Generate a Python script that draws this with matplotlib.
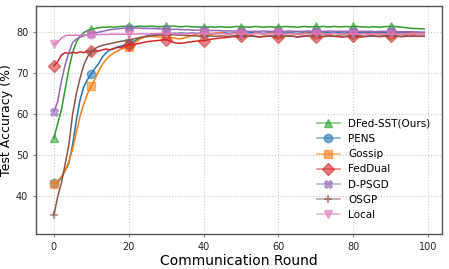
import matplotlib
matplotlib.use('Agg')
import matplotlib.pyplot as plt
import numpy as np

rounds = list(range(100))

dfed_sst = [54.2, 57.6, 61.0, 66.0, 71.0, 75.0, 77.6, 79.0, 79.9, 80.4,
            80.7, 80.9, 81.1, 81.2, 81.2, 81.3, 81.2, 81.3, 81.4, 81.4,
            81.4, 81.3, 81.4, 81.5, 81.4, 81.4, 81.5, 81.4, 81.3, 81.4,
            81.5, 81.4, 81.5, 81.4, 81.3, 81.4, 81.4, 81.3, 81.3, 81.2,
            81.3, 81.2, 81.3, 81.2, 81.3, 81.3, 81.2, 81.2, 81.3, 81.4,
            81.3, 81.3, 81.2, 81.3, 81.4, 81.3, 81.2, 81.3, 81.3, 81.2,
            81.3, 81.3, 81.4, 81.3, 81.3, 81.2, 81.3, 81.4, 81.3, 81.3,
            81.4, 81.3, 81.4, 81.3, 81.3, 81.4, 81.3, 81.3, 81.4, 81.3,
            81.4, 81.4, 81.3, 81.3, 81.2, 81.3, 81.3, 81.2, 81.3, 81.4,
            81.4, 81.4, 81.3, 81.2, 81.1, 81.0, 80.9, 80.9, 80.8, 80.8]

pens = [43.2, 43.3, 44.5, 46.2, 48.0, 52.5, 58.5, 63.5, 66.7, 68.5,
        69.8, 71.2, 72.4, 74.0, 75.0, 75.7, 76.0, 76.4, 76.6, 76.9,
        77.1, 77.6, 78.1, 78.5, 78.8, 79.1, 79.3, 79.4, 79.5, 79.5,
        79.6, 79.6, 79.7, 79.7, 79.8, 79.7, 79.7, 79.8, 79.7, 79.7,
        79.8, 79.7, 79.6, 79.7, 79.8, 79.9, 79.8, 79.7, 79.8, 79.9,
        79.8, 79.7, 79.8, 79.9, 79.8, 79.8, 79.7, 79.8, 79.9, 79.8,
        79.7, 79.8, 79.8, 79.9, 79.8, 79.7, 79.8, 79.9, 79.9, 79.8,
        79.8, 79.7, 79.8, 79.9, 79.8, 79.8, 79.9, 79.8, 79.8, 79.9,
        79.9, 79.8, 79.9, 80.0, 79.9, 79.8, 79.9, 79.9, 80.0, 79.9,
        79.9, 80.0, 79.9, 79.9, 80.0, 79.9, 79.9, 80.0, 79.9, 79.9]

gossip = [43.0, 43.7, 44.8, 46.2, 48.5, 51.5, 55.5, 59.5, 62.5, 65.0,
          66.9, 68.6, 70.6, 72.2, 73.4, 74.3, 74.9, 75.4, 75.9, 76.2,
          76.4, 77.0, 77.7, 78.3, 78.7, 78.9, 79.0, 78.9, 78.8, 78.8,
          79.0, 78.7, 78.6, 78.4, 78.4, 78.6, 78.9, 79.2, 79.5, 79.7,
          79.8, 79.6, 79.5, 79.7, 79.9, 79.8, 79.6, 79.5, 79.7, 79.8,
          79.7, 79.5, 79.4, 79.6, 79.8, 79.7, 79.5, 79.6, 79.8, 79.7,
          79.5, 79.4, 79.6, 79.7, 79.6, 79.5, 79.6, 79.8, 79.7, 79.5,
          79.6, 79.7, 79.6, 79.4, 79.5, 79.7, 79.6, 79.5, 79.6, 79.7,
          79.6, 79.5, 79.6, 79.7, 79.6, 79.5, 79.6, 79.7, 79.6, 79.5,
          79.6, 79.7, 79.6, 79.5, 79.6, 79.7, 79.8, 79.8, 79.9, 79.8]

feddual = [71.8, 72.8, 74.4, 75.0, 74.8, 75.1, 74.9, 75.2, 75.0, 75.4,
           75.3, 75.5, 75.4, 75.7, 75.9, 75.7, 76.0, 76.3, 76.2, 76.6,
           76.9, 77.0, 77.1, 77.3, 77.5, 77.7, 77.8, 77.9, 78.0, 78.1,
           78.2, 77.8, 77.5, 77.3, 77.3, 77.4, 77.6, 77.7, 77.8, 77.9,
           77.9, 78.1, 78.3, 78.4, 78.5, 78.6, 78.7, 78.8, 78.9, 78.9,
           79.0, 78.9, 79.0, 79.1, 78.9, 78.8, 78.9, 79.0, 79.1, 78.9,
           78.8, 78.9, 79.0, 79.1, 79.0, 78.8, 78.9, 79.0, 79.1, 79.0,
           78.9, 78.8, 78.9, 79.0, 79.1, 79.0, 78.9, 78.8, 78.9, 79.0,
           79.0, 78.9, 78.8, 78.9, 79.0, 79.1, 79.0, 78.9, 79.0, 79.1,
           79.0, 79.1, 79.0, 78.9, 79.0, 79.0, 79.1, 79.0, 79.0, 79.0]

dpsgd = [60.6, 63.0, 68.0, 72.0, 75.0, 77.5, 78.3, 78.8, 79.1, 79.4,
         79.6, 79.8, 80.0, 80.2, 80.4, 80.6, 80.7, 80.8, 80.9, 81.0,
         81.0, 81.0, 81.0, 81.0, 80.9, 80.9, 80.9, 80.9, 80.8, 80.8,
         80.8, 80.7, 80.7, 80.7, 80.6, 80.6, 80.6, 80.5, 80.5, 80.5,
         80.5, 80.4, 80.4, 80.4, 80.4, 80.3, 80.3, 80.3, 80.3, 80.3,
         80.3, 80.3, 80.2, 80.2, 80.2, 80.2, 80.3, 80.2, 80.2, 80.2,
         80.2, 80.2, 80.2, 80.3, 80.2, 80.2, 80.2, 80.2, 80.3, 80.2,
         80.2, 80.2, 80.2, 80.2, 80.3, 80.2, 80.2, 80.2, 80.2, 80.2,
         80.3, 80.2, 80.2, 80.2, 80.2, 80.2, 80.1, 80.2, 80.2, 80.2,
         80.2, 80.2, 80.1, 80.1, 80.1, 80.1, 80.1, 80.0, 80.0, 80.0]

osgp = [35.4, 39.8, 43.2, 47.8, 52.5, 60.0, 65.0, 68.8, 72.0, 74.0,
        75.2, 76.0, 76.5, 76.8, 77.0, 77.2, 77.4, 77.6, 77.8, 77.9,
        78.1, 78.3, 78.5, 78.7, 78.9, 79.0, 79.1, 79.2, 79.3, 79.3,
        79.3, 79.3, 79.4, 79.3, 79.3, 79.2, 79.2, 79.1, 79.1, 79.0,
        79.0, 79.0, 79.1, 79.0, 79.0, 79.1, 79.0, 79.0, 79.1, 79.2,
        79.1, 79.0, 79.0, 79.1, 79.0, 78.9, 79.0, 79.1, 79.0, 79.0,
        79.1, 79.0, 79.0, 79.1, 79.0, 78.9, 79.0, 79.1, 79.0, 79.0,
        79.1, 79.0, 79.0, 79.1, 79.0, 79.0, 79.1, 79.0, 79.0, 79.1,
        79.0, 79.0, 79.1, 79.0, 79.0, 79.1, 79.0, 79.0, 79.1, 79.0,
        79.0, 79.1, 79.0, 79.0, 79.1, 79.0, 79.0, 79.0, 79.0, 79.0]

local = [77.1, 77.5, 78.6, 79.1, 79.3, 79.2, 79.3, 79.2, 79.3, 79.3,
         79.4, 79.4, 79.4, 79.5, 79.4, 79.5, 79.5, 79.5, 79.5, 79.5,
         79.5, 79.6, 79.5, 79.6, 79.6, 79.5, 79.6, 79.6, 79.7, 79.6,
         79.6, 79.7, 79.6, 79.6, 79.7, 79.6, 79.7, 79.7, 79.6, 79.7,
         79.7, 79.6, 79.7, 79.6, 79.6, 79.7, 79.6, 79.6, 79.7, 79.6,
         79.6, 79.7, 79.6, 79.6, 79.7, 79.6, 79.6, 79.7, 79.6, 79.6,
         79.7, 79.6, 79.6, 79.7, 79.6, 79.6, 79.5, 79.6, 79.6, 79.7,
         79.6, 79.6, 79.5, 79.6, 79.6, 79.7, 79.6, 79.6, 79.5, 79.6,
         79.6, 79.5, 79.6, 79.6, 79.5, 79.6, 79.6, 79.5, 79.6, 79.5,
         79.6, 79.5, 79.5, 79.6, 79.5, 79.5, 79.5, 79.5, 79.5, 79.5]

labels = ['DFed-SST(Ours)', 'PENS', 'Gossip', 'FedDual', 'D-PSGD', 'OSGP', 'Local']
series = [dfed_sst, pens, gossip, feddual, dpsgd, osgp, local]
colors = ['tab:green', 'tab:blue', 'tab:orange', 'tab:red', 'tab:purple', 'tab:brown', 'tab:pink']
markers = ['^', 'o', 's', 'D', 'X', '+', 'v']

fig = plt.figure(figsize=(4.49, 2.69), dpi=100)
ax = fig.add_axes([0.08, 0.13, 0.904, 0.848])

for vals, lab, c, m in zip(series, labels, colors, markers):
    mfc = matplotlib.colors.to_rgba(c, 0.55)
    ax.plot(rounds, vals, color=c, lw=1.1, marker=m, markevery=10, ms=6,
            mfc=mfc, mec=mfc, mew=1.6 if m == '+' else 1.0, label=lab)

ax.set_xlim(-4.8, 103.7)
ax.set_ylim(30.8, 86.4)
ax.set_xticks([0, 20, 40, 60, 80, 100])
ax.set_yticks([40, 50, 60, 70, 80])
ax.tick_params(labelsize=7, length=2, color='#888888', labelcolor='#222222')
ax.grid(True, linestyle=':', color='#cccccc', linewidth=0.8)
for s in ax.spines.values():
    s.set_color('#555555')
    s.set_linewidth(1.0)

ax.set_xlabel('Communication Round', fontsize=10, labelpad=2)
ax.set_ylabel('Test Accuracy (%)', fontsize=9)
ax.yaxis.set_label_coords(-0.057, 0.5)

leg = ax.legend(loc='lower right', fontsize=7.5, frameon=False, handlelength=2.2,
                labelspacing=0.5, bbox_to_anchor=(0.995, 0.02))
for h in leg.get_lines():
    h.set_alpha(0.6)

fig.savefig('out.png', dpi=100)
